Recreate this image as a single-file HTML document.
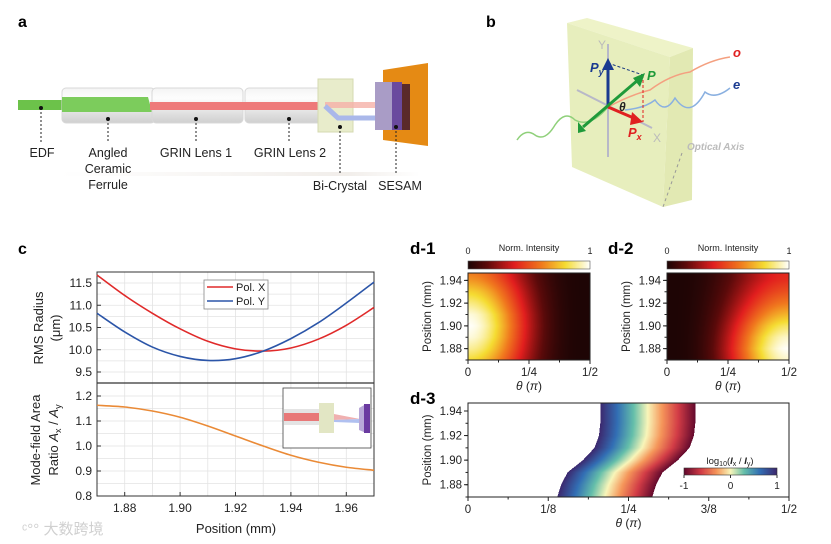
<!DOCTYPE html>
<html><head><meta charset="utf-8">
<style>
html,body{margin:0;padding:0;background:#fff;}
#wrap{position:relative;width:831px;height:544px;overflow:hidden;font-family:"Liberation Sans","Noto Sans CJK SC",sans-serif;}
canvas{position:absolute;}
svg{position:absolute;left:0;top:0;}
</style></head>
<body>
<div id="wrap">
<canvas id="hm1" style="left:468px;top:273px;width:122px;height:87px" width="244" height="174"></canvas>
<canvas id="hm2" style="left:667px;top:273px;width:122px;height:87px" width="244" height="174"></canvas>
<canvas id="hm3" style="left:468px;top:403px;width:321px;height:94px" width="642" height="188"></canvas>
<canvas id="cb1" style="left:468px;top:261px" width="122" height="8"></canvas>
<canvas id="cb2" style="left:667px;top:261px" width="122" height="8"></canvas>
<canvas id="cb3" style="left:684px;top:468px" width="93" height="7"></canvas>
<svg id="svg" width="831" height="544" viewBox="0 0 831 544" font-family="Liberation Sans, sans-serif">
<defs>
<linearGradient id="cyl" x1="0" y1="0" x2="0" y2="1">
<stop offset="0" stop-color="#f4f4f4"/><stop offset="0.3" stop-color="#fdfdfd"/><stop offset="0.7" stop-color="#e2e2e2"/><stop offset="1" stop-color="#cfcfcf"/></linearGradient>
<linearGradient id="shadow" x1="0" y1="0" x2="1" y2="0">
<stop offset="0" stop-color="#fff"/><stop offset="0.8" stop-color="#e8e2dc"/><stop offset="1" stop-color="#fff"/></linearGradient>
</defs>
<!-- Panel a -->
<g>
<text x="18" y="27" font-size="16" font-weight="bold">a</text>
<rect x="60" y="172" width="360" height="4" fill="url(#shadow)" opacity="0.6"/>
<rect x="18" y="100" width="46" height="10" fill="#6cc24a"/>
<rect x="62" y="88" width="93" height="35" rx="4" fill="url(#cyl)" stroke="#d8d8d8"/>
<polygon points="62,97 148,97 152,112 62,112" fill="#7ccc5c"/>
<rect x="152" y="88" width="91" height="35" rx="4" fill="url(#cyl)" stroke="#d8d8d8"/>
<rect x="245" y="88" width="82" height="35" rx="4" fill="url(#cyl)" stroke="#d8d8d8"/>
<rect x="150" y="102" width="175" height="8" fill="#ee7a7a"/>
<rect x="318" y="79" width="35" height="53" fill="#e8eccb" stroke="#d5dab0"/>
<rect x="325" y="102" width="60" height="6" fill="#f5b0a8" opacity="0.8"/>
<polyline points="325,106 338,118 385,118" fill="none" stroke="#aab8ea" stroke-width="5"/>
<polygon points="383,70 428,63 428,146 383,140" fill="#e58a14"/>
<rect x="375" y="82" width="18" height="48" fill="#a99cc6"/>
<rect x="392" y="82" width="10" height="48" fill="#6a4a9e"/>
<rect x="402" y="84" width="8" height="46" fill="#5a2a2a"/>
<g stroke="#222" stroke-width="1" stroke-dasharray="2,2" fill="none">
<line x1="41" y1="108" x2="41" y2="142"/><line x1="108" y1="119" x2="108" y2="142"/>
<line x1="196" y1="119" x2="196" y2="142"/><line x1="289" y1="119" x2="289" y2="142"/>
<line x1="340" y1="127" x2="340" y2="175"/><line x1="396" y1="127" x2="396" y2="175"/>
</g>
<g fill="#111"><circle cx="41" cy="108" r="2"/><circle cx="108" cy="119" r="2"/><circle cx="196" cy="119" r="2"/><circle cx="289" cy="119" r="2"/><circle cx="340" cy="127" r="2"/><circle cx="396" cy="127" r="2"/></g>
<g font-size="12.5" fill="#222" text-anchor="middle">
<text x="42" y="157">EDF</text>
<text x="108" y="157">Angled</text>
<text x="108" y="173">Ceramic</text><text x="108" y="189">Ferrule</text>
<text x="196" y="157">GRIN Lens 1</text>
<text x="290" y="157">GRIN Lens 2</text>
<text x="340" y="190">Bi-Crystal</text>
<text x="400" y="190">SESAM</text>
</g>
</g>
<!-- Panel b -->
<g>
<text x="486" y="27" font-size="16" font-weight="bold">b</text>
<polygon points="567,23 587,18 693,48 670,57" fill="#eef3c8"/>
<polygon points="670,57 693,48 692,200 663,207" fill="#e2e9b3"/>
<polygon points="567,23 670,57 663,207 572,167" fill="#e7eebd"/>
<line x1="682" y1="153" x2="663" y2="207" stroke="#999" stroke-dasharray="3,3"/>
<g stroke="#b8b8c8" stroke-width="2" fill="none">
<line x1="608" y1="44" x2="608" y2="157"/><line x1="577" y1="90" x2="652" y2="128"/>
</g>
<path d="M517,140 Q525,128 535,135 Q545,142 555,125 Q565,110 575,120 Q590,128 608,107" fill="none" stroke="#8fd07a" stroke-width="1.5"/>
<path d="M608,107 Q630,95 650,90 Q670,75 690,72 Q710,60 730,57" fill="none" stroke="#f4a080" stroke-width="1.5"/>
<path d="M625,110 Q645,108 655,100 Q665,115 675,98 Q690,120 705,92 Q715,100 730,88" fill="none" stroke="#8ab0e0" stroke-width="1.5"/>
<line x1="608" y1="63" x2="643" y2="75" stroke="#1a3a80" stroke-dasharray="3,2"/>
<line x1="643" y1="75" x2="643" y2="122" stroke="#e02020" stroke-dasharray="3,2"/>
<line x1="608" y1="107" x2="608" y2="66" stroke="#1a3a90" stroke-width="3"/>
<polygon points="602,70 614,70 608,58" fill="#1a3a90"/>
<line x1="608" y1="107" x2="636" y2="119" stroke="#e02020" stroke-width="3"/>
<polygon points="632,112 630,125 643,122" fill="#e02020"/>
<line x1="583" y1="127" x2="638" y2="80" stroke="#1f9a3a" stroke-width="3"/>
<polygon points="633,78 640,87 645,73" fill="#1f9a3a"/><polygon points="578,122 586,131 578,133" fill="#1f9a3a"/>
<g font-weight="bold" font-style="italic" font-size="13">
<text x="590" y="72" fill="#1a3a90">P<tspan font-size="9" dy="3">y</tspan></text>
<text x="647" y="80" fill="#1f9a3a">P</text>
<text x="619" y="111" fill="#222" font-size="12">θ</text>
<text x="628" y="137" fill="#e02020">P<tspan font-size="9" dy="3">x</tspan></text>
<text x="733" y="57" fill="#e02020">o</text>
<text x="733" y="89" fill="#1a3a90">e</text>
<text x="687" y="150" fill="#bbb" font-size="10">Optical Axis</text>
</g>
<text x="598" y="49" fill="#bbb" font-size="12">Y</text>
<text x="653" y="142" fill="#bbb" font-size="12">X</text>
</g>
<!-- Panel c -->
<g id="pc">
<text x="18" y="254" font-size="16" font-weight="bold">c</text>
</g>
<g id="pd">
<text x="410" y="254" font-size="17" font-weight="bold">d-1</text>
<text x="608" y="254" font-size="17" font-weight="bold">d-2</text>
<text x="410" y="404" font-size="17" font-weight="bold">d-3</text>
</g>
<text x="22" y="534" font-size="15" fill="#d0d0d0">ᶜ°° 大数跨境</text>
</svg>
</div>
<script>
// ---- Panel c data ----
const cPositions = [1.87,1.88,1.89,1.90,1.91,1.92,1.93,1.94,1.95,1.96,1.97];
const rmsPolX = [11.68,11.22,10.82,10.47,10.19,10.02,9.97,10.04,10.24,10.55,10.95];
const rmsPolY = [10.82,10.40,10.06,9.85,9.76,9.80,9.97,10.25,10.61,11.05,11.52];
const areaRatio = [1.163,1.156,1.140,1.115,1.080,1.040,1.000,0.963,0.935,0.915,0.903];
const cXTicks = [1.88,1.90,1.92,1.94,1.96];
const cTopTicks = [9.5,10.0,10.5,11.0,11.5];
const cBotTicks = [0.8,0.9,1.0,1.1,1.2];
// ---- Panel d data ----
const dPositions = [1.87,1.88,1.89,1.90,1.91,1.92,1.93,1.94,1.947];
const d1Peak = [0.80,0.90,0.97,1.00,0.97,0.88,0.78,0.66,0.60];
const d2Peak = [0.95,1.00,0.95,0.85,0.72,0.60,0.50,0.42,0.40];
const d3Positions = [1.87,1.88,1.89,1.90,1.91,1.92,1.93,1.947];
const d3Left = [0.139,0.145,0.155,0.179,0.197,0.204,0.206,0.206];
const d3Width = [0.148,0.148,0.148,0.148,0.148,0.148,0.148,0.148];
const dYTicks = [1.88,1.90,1.92,1.94];
const dXTicks12 = [0,0.25,0.5];
const dXLabels12 = ["0","1/4","1/2"];
const d3XTicks = [0,0.125,0.25,0.375,0.5];
const d3XLabels = ["0","1/8","1/4","3/8","1/2"];

const NS="http://www.w3.org/2000/svg";
const svg=document.getElementById('svg');
function el(tag,attrs,parent,text){const e=document.createElementNS(NS,tag);for(const k in attrs)e.setAttribute(k,attrs[k]);if(text!==undefined)e.textContent=text;(parent||svg).appendChild(e);return e;}
function smoothPath(pts){let d='M'+pts[0][0]+','+pts[0][1];for(let i=0;i<pts.length-1;i++){const p0=pts[Math.max(0,i-1)],p1=pts[i],p2=pts[i+1],p3=pts[Math.min(pts.length-1,i+2)];const c1=[p1[0]+(p2[0]-p0[0])/6,p1[1]+(p2[1]-p0[1])/6],c2=[p2[0]-(p3[0]-p1[0])/6,p2[1]-(p3[1]-p1[1])/6];d+=' C'+c1[0]+','+c1[1]+' '+c2[0]+','+c2[1]+' '+p2[0]+','+p2[1];}return d;}

// ---- Panel c ----
const pc=document.getElementById('pc');
const L=97,R=374,T=272,M=383,B=496;
const X=v=>L+(v-1.87)*2770;
const Y1=v=>283+(11.5-v)*44.5;
const Y2=v=>396+(1.2-v)*250;
for(let v=1.87;v<=1.9701;v+=0.01){el('line',{x1:X(v),x2:X(v),y1:T,y2:B,stroke:'#e3e3e3','stroke-width':0.8},pc);}
for(let v=9.25;v<=11.76;v+=0.25){if(Y1(v)>T&&Y1(v)<M)el('line',{x1:L,x2:R,y1:Y1(v),y2:Y1(v),stroke:'#e3e3e3','stroke-width':0.8},pc);}
for(let v=0.8;v<=1.25;v+=0.05){if(Y2(v)>M&&Y2(v)<B)el('line',{x1:L,x2:R,y1:Y2(v),y2:Y2(v),stroke:'#e3e3e3','stroke-width':0.8},pc);}
let fr=el('rect',{x:L,y:T,width:R-L,height:B-T,fill:'none',stroke:'#333','stroke-width':1},pc);


el('line',{x1:L,x2:R,y1:M,y2:M,stroke:'#333','stroke-width':1.2},pc);
cXTicks.forEach(v=>{el('line',{x1:X(v),x2:X(v),y1:B,y2:B-4,stroke:'#333'},pc);const t=el('text',{x:X(v),y:512,'font-size':12,'text-anchor':'middle',fill:'#222'},pc,v.toFixed(2));});
cTopTicks.forEach(v=>{el('line',{x1:L,x2:L+4,y1:Y1(v),y2:Y1(v),stroke:'#333'},pc);el('text',{x:L-5,y:Y1(v)+4,'font-size':12,'text-anchor':'end',fill:'#222'},pc,v.toFixed(1));});
cBotTicks.forEach(v=>{el('line',{x1:L,x2:L+4,y1:Y2(v),y2:Y2(v),stroke:'#333'},pc);el('text',{x:L-5,y:Y2(v)+4,'font-size':12,'text-anchor':'end',fill:'#222'},pc,v.toFixed(1));});
let xt=el('text',{x:236,y:533,'font-size':13,'text-anchor':'middle',fill:'#222'},pc,'Position (mm)');


let yt1=el('text',{transform:'translate(43,328) rotate(-90)','font-size':13,'text-anchor':'middle',fill:'#222'},pc,'RMS Radius');


el('text',{transform:'translate(60,328) rotate(-90)','font-size':13,'text-anchor':'middle',fill:'#222'},pc,'(μm)');
let yt2=el('text',{transform:'translate(40,440) rotate(-90)','font-size':13,'text-anchor':'middle',fill:'#222'},pc,'Mode-field Area');


const r2=el('text',{transform:'translate(58,440) rotate(-90)','font-size':13,'text-anchor':'middle',fill:'#222'},pc);
r2.innerHTML='Ratio <tspan font-style="italic">A</tspan><tspan font-size="9" dy="3">x</tspan><tspan dy="-3"> / </tspan><tspan font-style="italic">A</tspan><tspan font-size="9" dy="3">y</tspan>';
let lx=el('path',{d:smoothPath(cPositions.map((p,i)=>[X(p),Y1(rmsPolX[i])])),fill:'none',stroke:'#e02a2a','stroke-width':1.6},pc);


let ly=el('path',{d:smoothPath(cPositions.map((p,i)=>[X(p),Y1(rmsPolY[i])])),fill:'none',stroke:'#2b55a8','stroke-width':1.6},pc);


let lo=el('path',{d:smoothPath(cPositions.map((p,i)=>[X(p),Y2(areaRatio[i])])),fill:'none',stroke:'#ea8a36','stroke-width':1.6},pc);


let lg=el('g',{},pc);


el('rect',{x:204,y:280,width:64,height:29,fill:'#fff',stroke:'#888','stroke-width':0.8},lg);
el('line',{x1:207,x2:233,y1:287,y2:287,stroke:'#e02a2a','stroke-width':1.6},lg);
el('line',{x1:207,x2:233,y1:301,y2:301,stroke:'#2b55a8','stroke-width':1.6},lg);
el('text',{x:236,y:291,'font-size':11,fill:'#222'},lg,'Pol. X');
el('text',{x:236,y:305,'font-size':11,fill:'#222'},lg,'Pol. Y');
let ins=el('g',{},pc);


el('rect',{x:283,y:388,width:88,height:60,fill:'#fff',stroke:'#444','stroke-width':0.8},ins);
el('rect',{x:284,y:409,width:36,height:16,fill:'#e4e4e4'},ins);
el('rect',{x:284,y:413,width:36,height:8,fill:'#e87878'},ins);
el('rect',{x:319,y:403,width:15,height:30,fill:'#e2e6c4'},ins);
el('polygon',{points:'334,414 360,419 334,420',fill:'#f0b0b0'},ins);
el('polygon',{points:'334,420 360,419 360,423 334,422',fill:'#b0c0f0'},ins);
el('polygon',{points:'359,408 366,404 366,433 359,430',fill:'#b8a8d8'},ins);
el('rect',{x:364,y:404,width:6,height:29,fill:'#6a3aa0'},ins);

// ---- Panel d ----
const pd=document.getElementById('pd');
function hot(v){v=Math.max(0,Math.min(1,v));const s=[[0,[30,5,5]],[0.15,[90,10,10]],[0.38,[225,30,30]],[0.6,[240,120,30]],[0.8,[245,220,50]],[1,[255,255,250]]];for(let i=0;i<s.length-1;i++){if(v<=s[i+1][0]){const f=(v-s[i][0])/(s[i+1][0]-s[i][0]);return s[i][1].map((c,k)=>Math.round(c+f*(s[i+1][1][k]-c)));}}return s[s.length-1][1];}
function spec(v){const t=(1-v)/2;const s=[[0,[60,40,110]],[0.18,[50,110,180]],[0.35,[100,190,170]],[0.5,[248,245,185]],[0.65,[245,150,90]],[0.82,[210,60,70]],[1,[100,10,45]]];for(let i=0;i<s.length-1;i++){if(t<=s[i+1][0]){const f=(t-s[i][0])/(s[i+1][0]-s[i][0]);return s[i][1].map((c,k)=>Math.round(c+f*(s[i+1][1][k]-c)));}}return s[s.length-1][1];}
function interp(xs,ys,x){if(x<=xs[0])return ys[0];for(let i=0;i<xs.length-1;i++){if(x<=xs[i+1]){const f=(x-xs[i])/(xs[i+1]-xs[i]);return ys[i]+f*(ys[i+1]-ys[i]);}}return ys[ys.length-1];}
const P0=1.87,P1=1.9465;
function drawHeat(id,peaks,useSin){const c=document.getElementById(id),ctx=c.getContext('2d');const img=ctx.createImageData(c.width,c.height);for(let y=0;y<c.height;y++){const pos=P1-(y+0.5)/c.height*(P1-P0);const pk=interp(dPositions,peaks,pos);for(let x=0;x<c.width;x++){const th=(x+0.5)/c.width*Math.PI/2;const w=useSin?Math.sin(th)**2:Math.cos(th)**2;const col=hot(pk*Math.pow(w,1.6));const i=(y*c.width+x)*4;img.data[i]=col[0];img.data[i+1]=col[1];img.data[i+2]=col[2];img.data[i+3]=255;}}ctx.putImageData(img,0,0);}
drawHeat('hm1',d1Peak,false);drawHeat('hm2',d2Peak,true);
(function(){const c=document.getElementById('hm3'),ctx=c.getContext('2d');const img=ctx.createImageData(c.width,c.height);for(let y=0;y<c.height;y++){const pos=P1-(y+0.5)/c.height*(P1-P0);const l=interp(d3Positions,d3Left,pos),w=interp(d3Positions,d3Width,pos);for(let x=0;x<c.width;x++){const th=(x+0.5)/c.width*0.5;const i=(y*c.width+x)*4;if(th>=l&&th<=l+w){const col=spec(1-2*(th-l)/w);img.data[i]=col[0];img.data[i+1]=col[1];img.data[i+2]=col[2];img.data[i+3]=255;}}}ctx.putImageData(img,0,0);})();
function drawBar(id,fn){const c=document.getElementById(id),ctx=c.getContext('2d');for(let x=0;x<c.width;x++){const col=fn(x/(c.width-1));ctx.fillStyle='rgb('+col+')';ctx.fillRect(x,0,1,c.height);}}
drawBar('cb1',hot);drawBar('cb2',hot);drawBar('cb3',t=>spec(2*t-1));
function axesD(x0,x1,y0,y1,xt,xl,xmax,tickY,name){
 const XD=v=>x0+v/xmax*(x1-x0);const YD=p=>y0+(P1-p)/(P1-P0)*(y1-y0);
 const f=el('rect',{x:x0,y:y0,width:x1-x0,height:y1-y0,fill:'none',stroke:'#222','stroke-width':1},pd);
 
 
 xt.forEach((v,i)=>{el('line',{x1:XD(v),x2:XD(v),y1:y1,y2:y1+4,stroke:'#222'},pd);el('text',{x:XD(v),y:y1+16,'font-size':11.5,'text-anchor':'middle',fill:'#222'},pd,xl[i]);});
 for(let k=0;k<xt.length-1;k++){const m=(xt[k]+xt[k+1])/2;el('line',{x1:XD(m),x2:XD(m),y1:y1,y2:y1+2.5,stroke:'#222'},pd);}
 dYTicks.forEach(p=>{el('line',{x1:x0,x2:x0-4,y1:YD(p),y2:YD(p),stroke:'#222'},pd);el('text',{x:x0-6,y:YD(p)+4,'font-size':11.5,'text-anchor':'end',fill:'#222'},pd,p.toFixed(2));});
 for(let p=1.87;p<1.946;p+=0.01){el('line',{x1:x0,x2:x0-2.5,y1:YD(p),y2:YD(p),stroke:'#222'},pd);}
 const th=el('text',{x:(x0+x1)/2,y:tickY,'font-size':12,'text-anchor':'middle',fill:'#222'},pd);th.innerHTML='<tspan font-style="italic">θ</tspan> (<tspan font-style="italic">π</tspan>)';
 el('text',{transform:'translate('+(x0-37)+','+((y0+y1)/2)+') rotate(-90)','font-size':11.5,'text-anchor':'middle',fill:'#222'},pd,'Position (mm)');
}
axesD(468,590,273,360,dXTicks12,dXLabels12,0.5,390,'plot-frame-d1');
axesD(667,789,273,360,dXTicks12,dXLabels12,0.5,390,'plot-frame-d2');
axesD(468,789,403,497,d3XTicks,d3XLabels,0.5,527,'plot-frame-d3');
[[468,590],[667,789]].forEach(([a,b])=>{el('rect',{x:a,y:261,width:b-a,height:8,fill:'none',stroke:'#555','stroke-width':0.6},pd);el('text',{x:a,y:254,'font-size':9,'text-anchor':'middle',fill:'#222'},pd,'0');el('text',{x:b,y:254,'font-size':9,'text-anchor':'middle',fill:'#222'},pd,'1');el('text',{x:(a+b)/2,y:251,'font-size':9,'text-anchor':'middle',fill:'#222'},pd,'Norm. Intensity');});
el('rect',{x:684,y:468,width:93,height:7,fill:'none',stroke:'#333','stroke-width':0.6},pd);
[['-1',684],['0',730.5],['1',777]].forEach(([t,x])=>{el('line',{x1:x,x2:x,y1:475,y2:478,stroke:'#333'},pd);el('text',{x:x,y:489,'font-size':10,'text-anchor':'middle',fill:'#222'},pd,t);});
const lt=el('text',{x:730,y:464,'font-size':9.5,'text-anchor':'middle',fill:'#222'},pd);
lt.innerHTML='log<tspan font-size="7" dy="2">10</tspan><tspan dy="-2">(</tspan><tspan font-style="italic" font-weight="bold">I</tspan><tspan font-size="7" dy="2">x</tspan><tspan dy="-2"> / </tspan><tspan font-style="italic" font-weight="bold">I</tspan><tspan font-size="7" dy="2">y</tspan><tspan dy="-2">)</tspan>';
</script>
</body></html>
